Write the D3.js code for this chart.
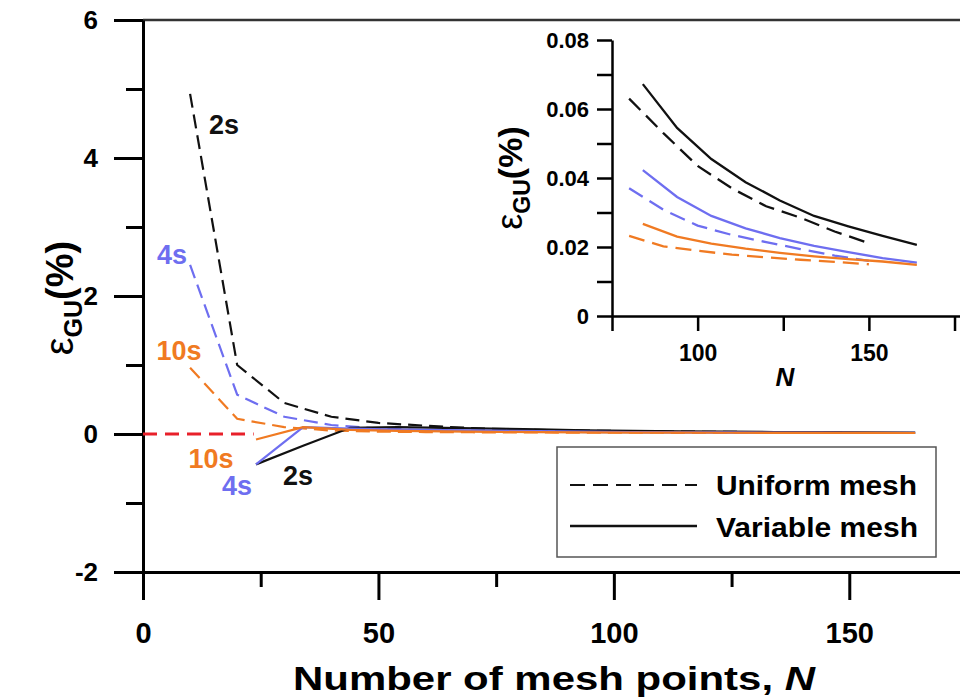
<!DOCTYPE html>
<html><head><meta charset="utf-8">
<script src="https://cdn.jsdelivr.net/npm/d3@7"></script>
<style>
body{margin:0;background:#fff;}
svg{display:block;font-family:Arial,"Liberation Sans",sans-serif;}
</style></head><body>
<script>
// ---------- data ----------
const uniformN  = [10,20,30,40,50,60,70,80,90,100,110,120,130,140,150];
const variableN = [24,34,44,54,64,74,84,94,104,114,124,134,144,154,164];
const uniform2s  = [4.93,1.00,0.45,0.25,0.16,0.12,0.085,0.063,0.053,0.0435,0.037,0.0318,0.0285,0.0245,0.0211];
const uniform4s  = [2.45,0.57,0.25,0.13,0.08,0.055,0.044,0.037,0.0308,0.0262,0.0235,0.0214,0.0194,0.0175,0.016];
const uniform10s = [0.96,0.22,0.10,0.05,0.035,0.028,0.025,0.0232,0.0202,0.0189,0.0178,0.017,0.0163,0.0157,0.015];
const variable2s  = [-0.44,-0.17,0.09,0.10,0.09,0.078,0.0672,0.0545,0.0455,0.0388,0.0335,0.029,0.026,0.0232,0.0206];
const variable4s  = [-0.44,0.10,0.08,0.065,0.057,0.049,0.0423,0.0345,0.029,0.0254,0.0226,0.0203,0.0185,0.0168,0.0155];
const variable10s = [-0.08,0.10,0.06,0.045,0.037,0.031,0.0267,0.023,0.021,0.0195,0.0183,0.0173,0.0165,0.0158,0.0148];
const refN = [0,23.5];
const refVal = [0,0];
const mainYTicks = [-2,0,2,4,6];
const mainYMinor = [-1,1,3,5];
const mainXTicks = [0,50,100,150];
const mainXMinor = [25,75,125];
const insetYTicks = [0,0.02,0.04,0.06,0.08];
const insetYMinor = [0.01,0.03,0.05,0.07];
const insetXTicks = [100,150];
const insetXMinor = [75,125,175];
const seriesLabels = ["2s","4s","10s"];
const legendLabels = ["Uniform mesh","Variable mesh"];

const colors = {"2s":"#111111","4s":"#6e6ef0","10s":"#f07a22"};
const series = [
  {name:"2s", type:"uniform", n:uniformN, v:uniform2s},
  {name:"4s", type:"uniform", n:uniformN, v:uniform4s},
  {name:"10s",type:"uniform", n:uniformN, v:uniform10s},
  {name:"2s", type:"variable", n:variableN, v:variable2s},
  {name:"4s", type:"variable", n:variableN, v:variable4s},
  {name:"10s",type:"variable", n:variableN, v:variable10s}
];

const W=960,H=700;
const svg=d3.select("body").append("svg").attr("width",W).attr("height",H);

// ---------- main scales ----------
const x=d3.scaleLinear().domain([0,175]).range([143,967]);
const y=d3.scaleLinear().domain([-2,6]).range([572,20]);

// frame top
svg.append("line").attr("x1",x(0)).attr("x2",W).attr("y1",y(6)).attr("y2",y(6))
  .attr("stroke","#333").attr("stroke-width",2.5);

function styleAxis(g,sw){
  g.select(".domain").attr("stroke","#000").attr("stroke-width",sw);
  g.selectAll(".tick line").attr("stroke","#000").attr("stroke-width",sw);
}

// y axis
const gy=svg.append("g").attr("transform",`translate(${x(0)},0)`)
  .call(d3.axisLeft(y).tickValues(mainYTicks).tickSize(29).tickPadding(16).tickSizeOuter(0).tickFormat(d=>String(d)));
styleAxis(gy,3);
gy.selectAll("text").attr("font-size",26).attr("font-weight","bold").attr("fill","#000");
const gym=svg.append("g").attr("transform",`translate(${x(0)},0)`)
  .call(d3.axisLeft(y).tickValues(mainYMinor).tickSize(17).tickFormat(""));
styleAxis(gym,3); gym.select(".domain").remove();

// x axis
const gx=svg.append("g").attr("transform",`translate(0,${y(-2)})`)
  .call(d3.axisBottom(x).tickValues(mainXTicks).tickSize(28).tickPadding(22).tickSizeOuter(0).tickFormat(d=>String(d)));
styleAxis(gx,3);
gx.selectAll("text").attr("font-size",29).attr("font-weight","bold").attr("fill","#000");
const gxm=svg.append("g").attr("transform",`translate(0,${y(-2)})`)
  .call(d3.axisBottom(x).tickValues(mainXMinor).tickSize(15).tickFormat(""));
styleAxis(gxm,3); gxm.select(".domain").remove();

// axis titles
const xt=svg.append("text").attr("x",293).attr("y",690)
  .attr("font-size",33).attr("font-weight","bold")
  .attr("textLength",522).attr("lengthAdjust","spacingAndGlyphs");
xt.append("tspan").text("Number of mesh points, ");
xt.append("tspan").attr("font-style","italic").text("N");

const yt=svg.append("text").attr("transform","translate(73,298) rotate(-90)").attr("text-anchor","middle");
yt.append("tspan").attr("font-size",40).text("ε");
yt.append("tspan").attr("font-size",25).attr("font-weight","bold").attr("dy",9).text("GU");
yt.append("tspan").attr("font-size",38).attr("font-weight","bold").attr("dy",-9).text("(%)");

// lines
const line=d3.line().x(d=>x(d[0])).y(d=>y(d[1]));
// red reference
svg.append("path").datum(d3.zip(refN,refVal)).attr("d",line)
  .attr("fill","none").attr("stroke","#e8202a").attr("stroke-width",3).attr("stroke-dasharray","14,8");

series.forEach(s=>{
  svg.append("path").datum(d3.zip(s.n,s.v)).attr("d",line).attr("fill","none")
    .attr("stroke",colors[s.name]).attr("stroke-width",2.2)
    .attr("stroke-dasharray",s.type==="uniform"?"14,7":null);
});

// series labels
const lab=[
  {t:seriesLabels[0],c:"2s",x:224,y:134},
  {t:seriesLabels[1],c:"4s",x:172,y:264},
  {t:seriesLabels[2],c:"10s",x:179,y:360},
  {t:seriesLabels[2],c:"10s",x:211,y:468},
  {t:seriesLabels[1],c:"4s",x:237,y:495},
  {t:seriesLabels[0],c:"2s",x:298,y:485}
];
lab.forEach(l=>svg.append("text").attr("x",l.x).attr("y",l.y).attr("text-anchor","middle")
  .attr("font-size",27).attr("font-weight","bold").attr("fill",colors[l.c]).text(l.t));

// legend
const lg=svg.append("g");
lg.append("rect").attr("x",557).attr("y",447).attr("width",379).attr("height",110)
  .attr("fill","#fff").attr("stroke","#555").attr("stroke-width",1.5);
lg.append("line").attr("x1",570).attr("x2",697).attr("y1",485).attr("y2",485)
  .attr("stroke","#111").attr("stroke-width",2.2).attr("stroke-dasharray","15,8");
lg.append("line").attr("x1",570).attr("x2",697).attr("y1",526).attr("y2",526)
  .attr("stroke","#111").attr("stroke-width",2.5);
lg.append("text").attr("x",716).attr("y",495).attr("font-size",28).attr("font-weight","bold")
  .attr("textLength",201).attr("lengthAdjust","spacingAndGlyphs").text(legendLabels[0]);
lg.append("text").attr("x",716).attr("y",537).attr("font-size",28).attr("font-weight","bold")
  .attr("textLength",202).attr("lengthAdjust","spacingAndGlyphs").text(legendLabels[1]);

// ---------- inset ----------
const ix=d3.scaleLinear().domain([75,176.6]).range([612,960]);
const iy=d3.scaleLinear().domain([0,0.08]).range([316,40]);
const giy=svg.append("g").attr("transform",`translate(${ix(75)},0)`)
  .call(d3.axisLeft(iy).tickValues(insetYTicks).tickSize(15).tickPadding(8).tickSizeOuter(0)
    .tickFormat(d=>d===0?"0":d3.format(".2f")(d)));
styleAxis(giy,2.5);
giy.selectAll("text").attr("font-size",22).attr("font-weight","bold").attr("fill","#000");
const giym=svg.append("g").attr("transform",`translate(${ix(75)},0)`)
  .call(d3.axisLeft(iy).tickValues(insetYMinor).tickSize(15).tickFormat(""));
styleAxis(giym,2.5); giym.select(".domain").remove();
const gix=svg.append("g").attr("transform",`translate(0,${iy(0)})`)
  .call(d3.axisBottom(ix).tickValues(insetXTicks).tickSize(15).tickPadding(14).tickSizeOuter(0).tickFormat(d3.format("d")));
styleAxis(gix,2.5);
gix.selectAll("text").attr("font-size",23).attr("font-weight","bold").attr("fill","#000");
const gixm=svg.append("g").attr("transform",`translate(0,${iy(0)})`)
  .call(d3.axisBottom(ix).tickValues(insetXMinor).tickSize(15).tickFormat(""));
styleAxis(gixm,2.5); gixm.select(".domain").remove();

svg.append("text").attr("x",785).attr("y",386).attr("text-anchor","middle")
  .attr("font-size",26).attr("font-weight","bold").attr("font-style","italic").text("N");
const iyt=svg.append("text").attr("transform","translate(522,178) rotate(-90)").attr("text-anchor","middle");
iyt.append("tspan").attr("font-size",36).text("ε");
iyt.append("tspan").attr("font-size",23).attr("font-weight","bold").attr("dy",8).text("GU");
iyt.append("tspan").attr("font-size",34).attr("font-weight","bold").attr("dy",-8).text("(%)");

const iline=d3.line().x(d=>ix(d[0])).y(d=>iy(d[1]));
series.forEach(s=>{
  const pts=d3.zip(s.n,s.v).filter(d=>d[0]>=75);
  svg.append("path").datum(pts).attr("d",iline).attr("fill","none")
    .attr("stroke",colors[s.name]).attr("stroke-width",2.3)
    .attr("stroke-dasharray",s.type==="uniform"?"16,8":null);
});
</script>
</body></html>
